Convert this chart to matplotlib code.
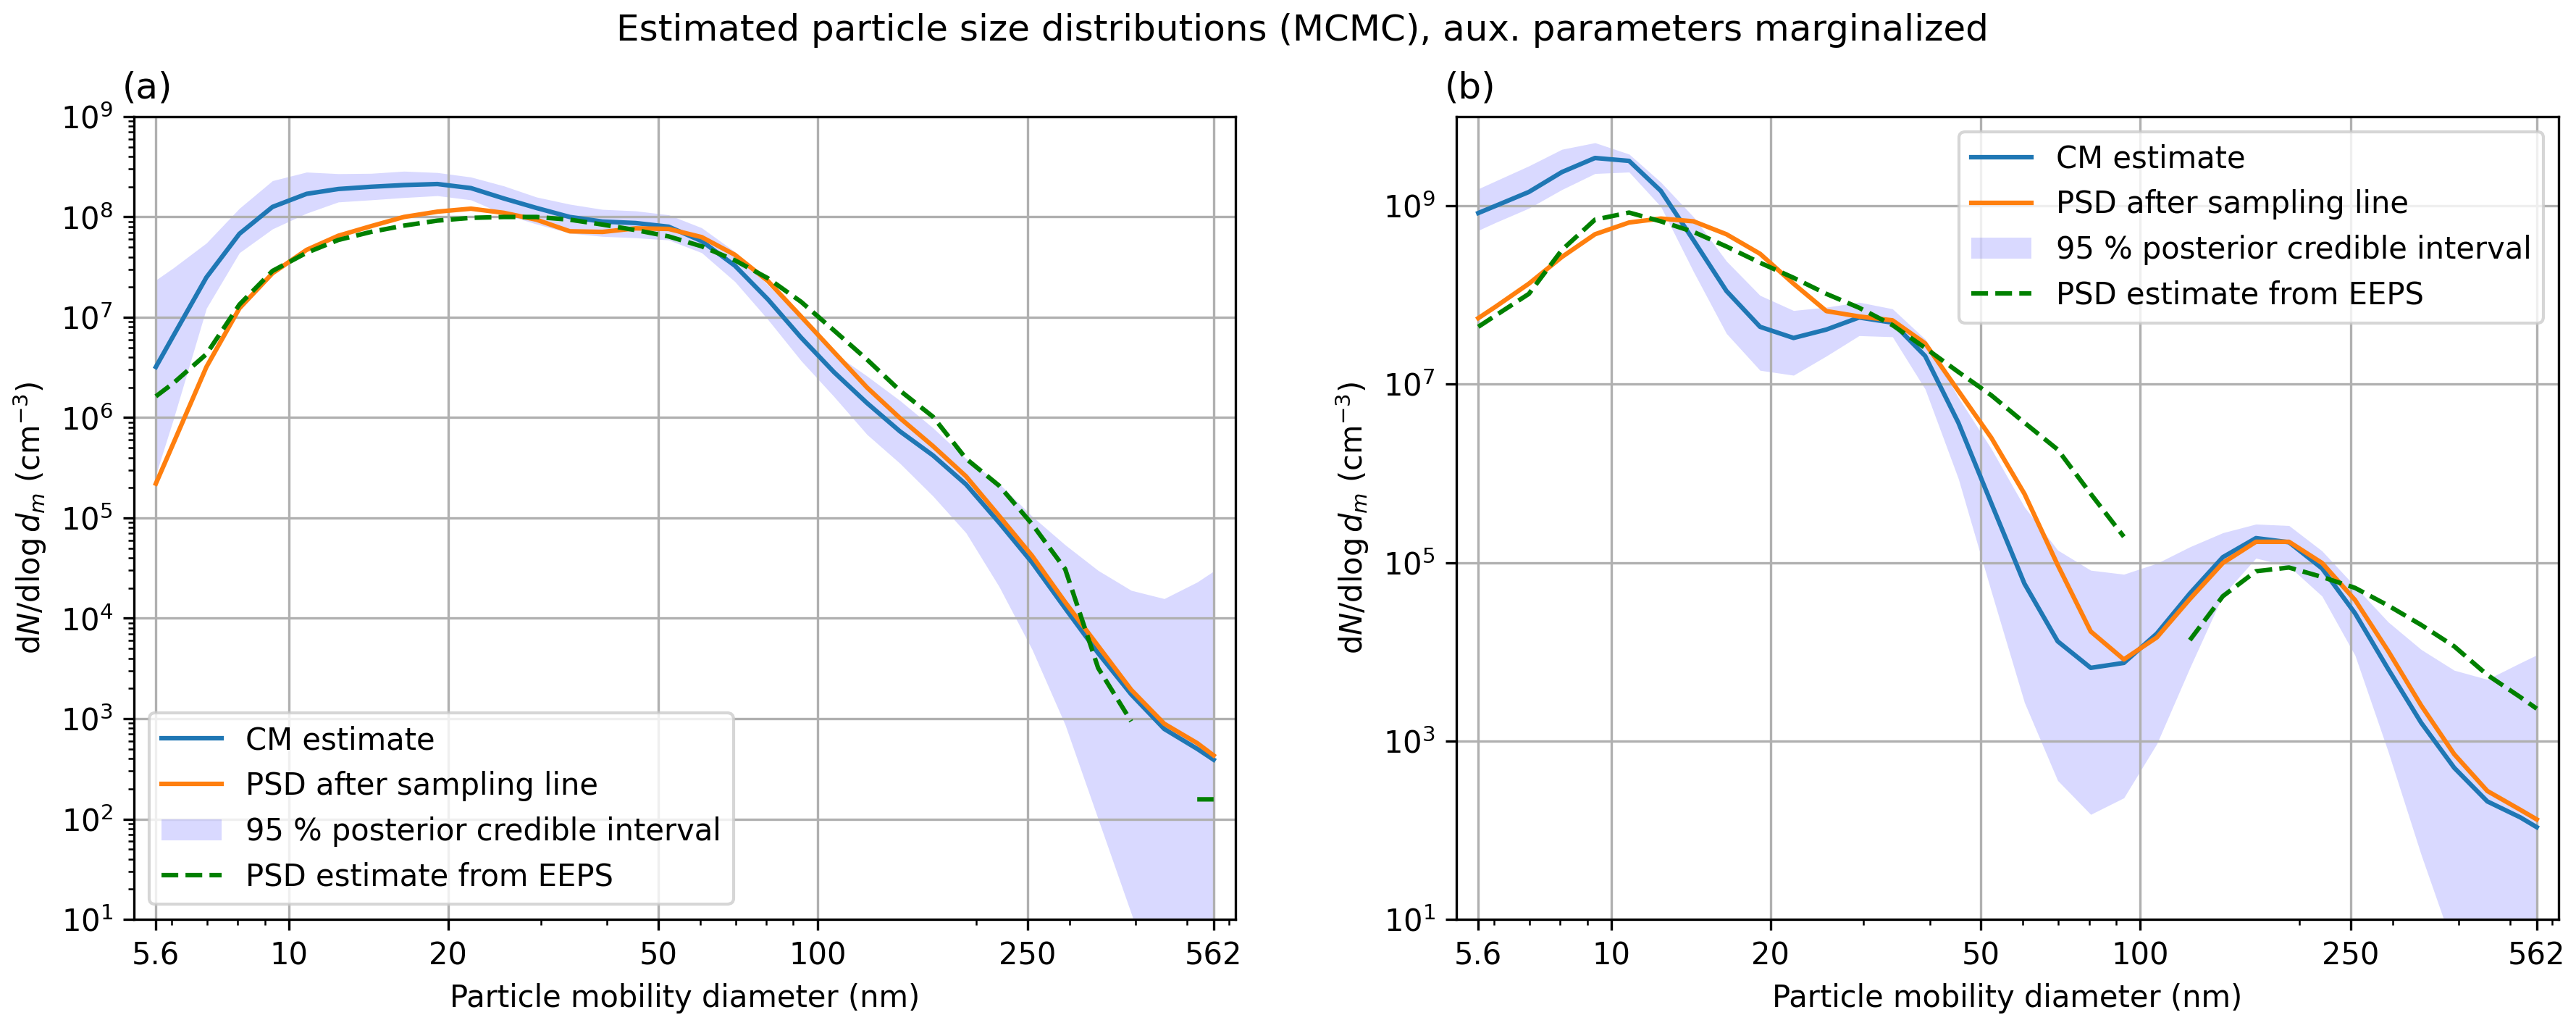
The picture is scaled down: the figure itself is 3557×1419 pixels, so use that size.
import numpy as np
import matplotlib
matplotlib.use("Agg")
import matplotlib.pyplot as plt
from matplotlib.ticker import NullLocator

# particle mobility diameter grid (nm)
diameter = [5.6, 6.04, 6.98, 8.06, 9.31, 10.8, 12.4, 14.3, 16.5, 19.1, 22.1, 25.5,
            29.4, 34.0, 39.2, 45.3, 52.3, 60.4, 69.8, 80.6, 93.1, 107.5, 124.1,
            143.3, 165.5, 191.1, 220.7, 254.8, 294.3, 339.8, 392.4, 453.2, 523.3, 562]

nan = float("nan")

# ---- panel (a) ----
a_cm = [3.2e6, 6.5e6, 2.5e7, 6.8e7, 1.26e8, 1.7e8, 1.9e8, 2.0e8, 2.08e8, 2.13e8, 1.94e8, 1.53e8,
        1.23e8, 1.0e8, 9.0e7, 8.7e7, 8.0e7, 5.75e7, 3.27e7, 1.51e7, 6.3e6, 2.84e6, 1.4e6,
        7.3e5, 4.2e5, 2.16e5, 9.0e4, 3.6e4, 1.26e4, 4.5e3, 1.75e3, 7.9e2, 5.0e2, 3.9e2]
a_psd = [2.2e5, 5.5e5, 3.2e6, 1.23e7, 2.75e7, 4.7e7, 6.5e7, 8.1e7, 1.0e8, 1.13e8, 1.21e8, 1.1e8,
         9.4e7, 7.2e7, 7.1e7, 7.7e7, 7.6e7, 6.3e7, 4.2e7, 2.3e7, 1.02e7, 4.5e6, 2.0e6,
         9.9e5, 5.2e5, 2.6e5, 1.05e5, 4.2e4, 1.45e4, 5.3e3, 1.94e3, 8.9e2, 5.7e2, 4.3e2]
a_eeps = [1.63e6, 2.2e6, 4.3e6, 1.34e7, 2.9e7, 4.4e7, 5.9e7, 7.1e7, 8.2e7, 9.2e7, 9.8e7, 1.0e8,
          1.0e8, 9.4e7, 8.4e7, 7.4e7, 6.4e7, 5.1e7, 3.7e7, 2.45e7, 1.43e7, 7.4e6, 3.8e6,
          1.86e6, 1.02e6, 3.9e5, 2.1e5, 8.7e4, 3.1e4, 3.2e3, 9.4e2, nan, 1.57e2, 1.57e2]
a_ci_hi = [2.35e7, 3.1e7, 5.5e7, 1.22e8, 2.3e8, 2.8e8, 2.7e8, 2.72e8, 2.86e8, 2.77e8, 2.5e8, 2.04e8,
           1.58e8, 1.34e8, 1.19e8, 1.15e8, 1.05e8, 7.8e7, 4.5e7, 2.1e7, 9.8e6, 4.4e6, 2.6e6,
           1.48e6, 7.9e5, 3.9e5, 2.2e5, 1.04e5, 5.4e4, 3.0e4, 1.9e4, 1.57e4, 2.3e4, 2.95e4]
a_ci_lo = [2.7e5, 9.5e5, 1.23e7, 4.4e7, 7.6e7, 1.09e8, 1.41e8, 1.48e8, 1.56e8, 1.63e8, 1.48e8, 1.07e8,
           8.5e7, 6.9e7, 6.4e7, 6.2e7, 5.9e7, 4.4e7, 2.27e7, 9.5e6, 3.7e6, 1.62e6, 6.8e5,
           3.5e5, 1.65e5, 7.1e4, 2.07e4, 4.9e3, 8.7e2, 1.0e2, 1.15e1, 1.26, 0.2, 0.1]

# ---- panel (b) ----
b_cm = [8.3e8, 1.0e9, 1.43e9, 2.39e9, 3.44e9, 3.19e9, 1.47e9, 4.1e8, 1.11e8, 4.4e7, 3.3e7, 4.1e7,
        5.6e7, 4.9e7, 2.07e7, 3.7e6, 4.6e5, 5.8e4, 1.31e4, 6.6e3, 7.5e3, 1.6e4, 4.5e4,
        1.15e5, 1.88e5, 1.69e5, 8.6e4, 2.7e4, 6.4e3, 1.6e3, 5.0e2, 2.1e2, 1.39e2, 1.08e2]
b_psd = [5.5e7, 7.4e7, 1.34e8, 2.67e8, 4.8e8, 6.5e8, 7.2e8, 6.7e8, 4.8e8, 2.9e8, 1.34e8, 6.6e7,
         5.75e7, 5.2e7, 2.87e7, 8.4e6, 2.5e6, 5.9e5, 9.4e4, 1.69e4, 8.2e3, 1.45e4, 3.9e4,
         9.9e4, 1.71e5, 1.71e5, 9.9e4, 3.8e4, 1.02e4, 2.5e3, 7.1e2, 2.75e2, 1.69e2, 1.32e2]
b_eeps = [4.4e7, 5.9e7, 1.03e8, 3.2e8, 7.0e8, 8.4e8, 6.7e8, 5.1e8, 3.5e8, 2.3e8, 1.56e8, 1.03e8,
          7.2e7, 4.6e7, 2.55e7, 1.37e7, 7.5e6, 3.7e6, 1.85e6, 5.9e5, 1.95e5, nan, 1.35e4,
          4.2e4, 8.0e4, 8.8e4, 6.9e4, 5.2e4, 3.3e4, 2.0e4, 1.15e4, 5.5e3, 3.1e3, 2.3e3]
b_ci_hi = [1.55e9, 1.9e9, 2.8e9, 4.3e9, 5.1e9, 3.8e9, 1.84e9, 7.5e8, 2.4e8, 9.9e7, 6.7e7, 7.3e7,
           8.3e7, 7.0e7, 3.2e7, 7.1e6, 1.88e6, 4.2e5, 1.38e5, 8.2e4, 7.4e4, 9.8e4, 1.5e5,
           2.16e5, 2.7e5, 2.6e5, 1.35e5, 5.4e4, 2.16e4, 1.06e4, 6.2e3, 4.9e3, 7.5e3, 9.2e3]
b_ci_lo = [5.3e8, 6.5e8, 9.4e8, 1.52e9, 2.3e9, 2.39e9, 9.8e8, 1.82e8, 3.7e7, 1.43e7, 1.26e7, 2.07e7,
           3.5e7, 3.4e7, 8.8e6, 8.7e5, 4.7e4, 2.7e3, 3.6e2, 1.5e2, 2.3e2, 9.3e2, 6.6e3,
           4.3e4, 1.12e5, 9.1e4, 4.2e4, 9.1e3, 7.6e2, 53, 4.6, 0.5, 0.1, 0.05]

xticks = [5.6, 10, 20, 50, 100, 250, 562]
xticklabels = ["5.6", "10", "20", "50", "100", "250", "562"]

W, H = 3557, 1419
fig = plt.figure(figsize=(W / 300, H / 300), dpi=300)
ax1 = fig.add_axes([185 / W, 1 - 1269 / H, 1521 / W, 1108 / H])
ax2 = fig.add_axes([2011 / W, 1 - 1269 / H, 1522 / W, 1108 / H])

panels = [
    (ax1, a_cm, a_psd, a_eeps, a_ci_lo, a_ci_hi, (10, 1e9), "(a)", "lower left"),
    (ax2, b_cm, b_psd, b_eeps, b_ci_lo, b_ci_hi, (10, 1e10), "(b)", "upper right"),
]

for ax, cm, psd, eeps, lo, hi, ylim, tag, loc in panels:
    h1, = ax.plot(diameter, cm, color="#1f77b4", lw=1.5, label="CM estimate")
    h2, = ax.plot(diameter, psd, color="#ff7f0e", lw=1.5, label="PSD after sampling line")
    h3 = ax.fill_between(diameter, lo, hi, color="b", alpha=0.15, lw=0,
                         label="95 % posterior credible interval")
    h4, = ax.plot(diameter, eeps, "g--", lw=1.5, label="PSD estimate from EEPS")
    ax.set_xscale("log")
    ax.set_yscale("log")
    ax.set_xlim(5.6 / 1.1, 562 * 1.1)
    ax.set_ylim(*ylim)
    ax.set_xticks(xticks)
    ax.set_xticklabels(xticklabels)
    ax.grid(True)
    ax.set_xlabel("Particle mobility diameter (nm)")
    ax.set_ylabel(r"d$N$/dlog$\,d_m$ (cm$^{-3}$)")
    ax.set_title(tag, loc="left", fontsize=12, x=-0.011)
    ax.legend(handles=[h1, h2, h3, h4], loc=loc)

ax2.set_yticks([1e1, 1e3, 1e5, 1e7, 1e9])
ax2.yaxis.set_minor_locator(NullLocator())
ax2.set_ylim(10, 1e10)

fig.suptitle("Estimated particle size distributions (MCMC), aux. parameters marginalized",
             fontsize=12, x=0.5055, y=0.987)

fig.savefig("out.png", dpi=300)
